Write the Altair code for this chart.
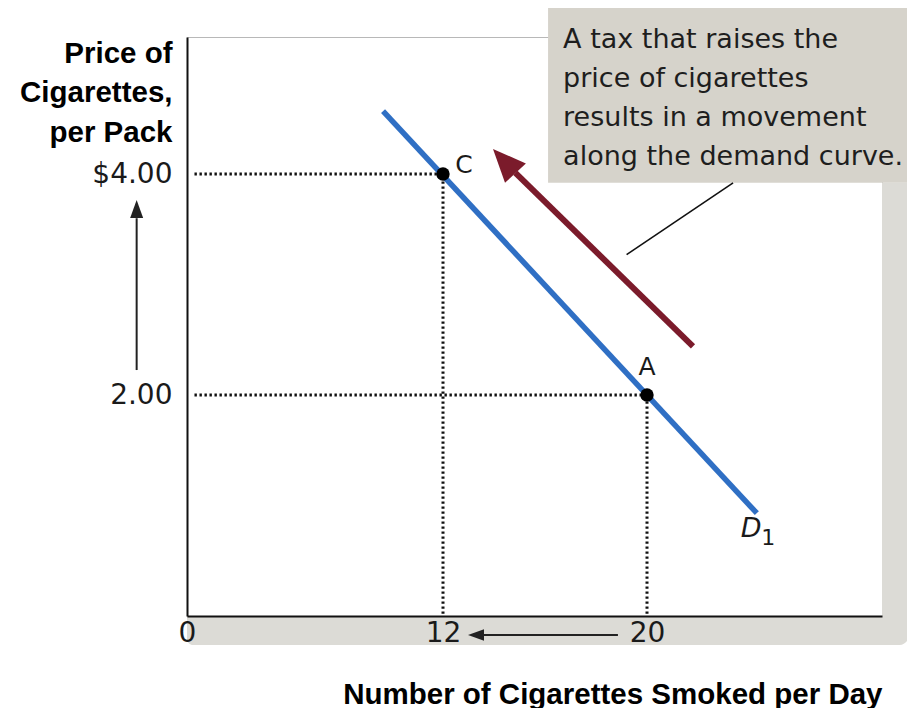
import altair as alt
import pandas as pd

# ---- data ----
x_ticks = [0, 12, 20]
y_ticks = [2, 4]
y_tick_text = {2: "2.00", 4: "$4.00"}

# demand curve D1 (quantity, price)
demand_q = [9.19, 24.3]
demand_p = [4.57, 0.93]

# labelled points
pt_names = ["C", "A"]
pt_q = [12, 20]
pt_p = [4.0, 2.0]
pt_label_q = [12.82, 20.0]
pt_label_p = [4.08, 2.25]

# tax arrow: shaft start/end, head centre
tax_q = [21.8, 14.84]
tax_p = [2.44, 4.01]
tax_head_q = [14.45]
tax_head_p = [4.105]

# price arrow (left of y axis)
up_q = [-2.36, -2.36]
up_p = [2.226, 3.60]
up_head_q = [-2.36]
up_head_p = [3.674]

# quantity arrow (below x axis)
left_q = [18.86, 13.6]
left_p = [-0.172, -0.172]
left_head_q = [13.33]
left_head_p = [-0.172]

# annotation box
box_q = [16.12, 30.36]
box_p = [3.92, 5.55]
box_text = "A tax that raises the\nprice of cigarettes\nresults in a movement\nalong the demand curve."
box_text_q = [16.71]
box_text_p = [5.14]
leader_q = [19.2, 23.37]
leader_p = [3.27, 3.92]

# frame bands
band_bottom_q = [0, 30.24]
band_bottom_p = [-0.262, 0]
band_right_q = [29.2, 30.24]
band_right_p = [0, 3.92]

# D1 label
d_q = [24.08]
d_p = [0.79]
sub_q = [24.75]
sub_p = [0.71]

# ---- scales / axes ----
xs = alt.Scale(domain=[0, 12, 20, 29.2], range=[0, 256, 460, 695], nice=False, zero=False)
ys = alt.Scale(domain=[0, 5.24], nice=False, zero=False)

label_expr = " : ".join(
    [f"datum.value == {k} ? '{v}'" for k, v in y_tick_text.items()]
) + " : ''"

x_axis = alt.Axis(
    values=x_ticks, grid=False, ticks=False, tickSize=0, labelPadding=17,
    labelBaseline="middle", labelFont="DejaVu Sans", labelFontSize=28,
    labelColor="#1a1a1a", domainColor="#111111", domainWidth=2,
    labelFlush=False, labelOverlap=False, zindex=1,
    title="Number of Cigarettes Smoked per Day",
    titleFont="Liberation Sans", titleFontWeight="bold", titleFontSize=29.5,
    titleColor="#000000", titleX=695, titleY=87, titleAlign="right",
    titleBaseline="alphabetic",
)
y_axis = alt.Axis(
    values=y_ticks, labelExpr=label_expr, grid=False, ticks=False, tickSize=0,
    labelPadding=15, labelBaseline="middle", labelFont="DejaVu Sans",
    labelFontSize=28, labelColor="#1a1a1a", domainColor="#111111",
    domainWidth=2, labelFlush=False, labelOverlap=False, zindex=1,
    title=["Price of", "Cigarettes,", "per Pack"], titleAngle=0,
    titleFont="Liberation Sans", titleFontWeight="bold", titleFontSize=29.5,
    titleColor="#000000", titleX=-15, titleY=25, titleAlign="right",
    titleBaseline="alphabetic", titleLineHeight=39.5,
)


def X(f):
    return alt.X(f, type="quantitative", scale=xs, axis=x_axis)


def Y(f):
    return alt.Y(f, type="quantitative", scale=ys, axis=y_axis)


def X2(f):
    return alt.X2(f)


def Y2(f):
    return alt.Y2(f)


# ---- layers ----
bands_bottom = alt.Chart(pd.DataFrame({
    "q1": [band_bottom_q[0]], "q2": [band_bottom_q[1]],
    "p1": [band_bottom_p[0]], "p2": [band_bottom_p[1]],
})).mark_rect(color="#dcdbd6", cornerRadiusBottomLeft=6, cornerRadiusBottomRight=9).encode(
    x=X("q1"), x2=X2("q2"), y=Y("p1"), y2=Y2("p2"))

bands_right = alt.Chart(pd.DataFrame({
    "q1": [band_right_q[0]], "q2": [band_right_q[1]],
    "p1": [band_right_p[0]], "p2": [band_right_p[1]],
})).mark_rect(color="#dcdbd6").encode(
    x=X("q1"), x2=X2("q2"), y=Y("p1"), y2=Y2("p2"))

box = alt.Chart(pd.DataFrame({
    "q1": [box_q[0]], "q2": [box_q[1]], "p1": [box_p[0]], "p2": [box_p[1]],
})).mark_rect(color="#d6d3cb").encode(
    x=X("q1"), x2=X2("q2"), y=Y("p1"), y2=Y2("p2"))

box_label = alt.Chart(pd.DataFrame({
    "q": box_text_q, "p": box_text_p, "t": [box_text],
})).mark_text(
    lineBreak="\n", align="left", baseline="alphabetic", font="DejaVu Sans",
    fontSize=27, lineHeight=39, color="#1e1e1e",
).encode(x=X("q"), y=Y("p"), text="t:N")

leader = alt.Chart(pd.DataFrame({
    "q1": [leader_q[0]], "q2": [leader_q[1]], "p1": [leader_p[0]], "p2": [leader_p[1]],
})).mark_rule(color="#111111", strokeWidth=1.6).encode(
    x=X("q1"), x2=X2("q2"), y=Y("p1"), y2=Y2("p2"))

dot_df = pd.DataFrame({
    "q1": [0.35, 0.35, pt_q[0], pt_q[1]],
    "q2": [pt_q[0], pt_q[1], pt_q[0], pt_q[1]],
    "p1": [pt_p[0], pt_p[1], 0.02, 0.02],
    "p2": [pt_p[0], pt_p[1], pt_p[0], pt_p[1]],
})
dotted = alt.Chart(dot_df).mark_rule(
    color="#111111", strokeWidth=3, strokeDash=[2.4, 2.6], strokeCap="butt",
).encode(x=X("q1"), x2=X2("q2"), y=Y("p1"), y2=Y2("p2"))

demand = alt.Chart(pd.DataFrame({"q": demand_q, "p": demand_p})).mark_line(
    color="#2f6fc4", strokeWidth=5.5, strokeCap="butt",
).encode(x=X("q"), y=Y("p"))

tax_shaft = alt.Chart(pd.DataFrame({
    "q1": [tax_q[0]], "q2": [tax_q[1]], "p1": [tax_p[0]], "p2": [tax_p[1]],
})).mark_rule(color="#7b1b2b", strokeWidth=6).encode(
    x=X("q1"), x2=X2("q2"), y=Y("p1"), y2=Y2("p2"))

tax_head = alt.Chart(pd.DataFrame({"q": tax_head_q, "p": tax_head_p})).mark_point(
    shape="M0,-1L0.78,0.8L-0.78,0.8Z", filled=True, opacity=1, size=1340,
    angle=317, color="#7b1b2b", strokeWidth=0,
).encode(x=X("q"), y=Y("p"))

points = alt.Chart(pd.DataFrame({"q": pt_q, "p": pt_p})).mark_circle(
    color="#000000", size=180, opacity=1,
).encode(x=X("q"), y=Y("p"))

pt_labels = alt.Chart(pd.DataFrame({
    "q": pt_label_q, "p": pt_label_p, "t": pt_names,
})).mark_text(font="DejaVu Sans", fontSize=25, color="#1a1a1a",
              baseline="middle", align="center").encode(
    x=X("q"), y=Y("p"), text="t:N")

d_label = alt.Chart(pd.DataFrame({"q": d_q, "p": d_p, "t": ["D"]})).mark_text(
    font="DejaVu Sans", fontSize=27, fontStyle="italic", color="#1a1a1a",
    baseline="middle", align="center",
).encode(x=X("q"), y=Y("p"), text="t:N")

d_sub = alt.Chart(pd.DataFrame({"q": sub_q, "p": sub_p, "t": ["1"]})).mark_text(
    font="DejaVu Sans", fontSize=22, color="#1a1a1a",
    baseline="middle", align="center",
).encode(x=X("q"), y=Y("p"), text="t:N")

up_shaft = alt.Chart(pd.DataFrame({
    "q1": [up_q[0]], "q2": [up_q[1]], "p1": [up_p[0]], "p2": [up_p[1]],
})).mark_rule(color="#222222", strokeWidth=2).encode(
    x=X("q1"), x2=X2("q2"), y=Y("p1"), y2=Y2("p2"))

up_head = alt.Chart(pd.DataFrame({"q": up_head_q, "p": up_head_p})).mark_point(
    shape="M0,-1L0.65,0.8L-0.65,0.8Z", filled=True, opacity=1, size=400,
    angle=0, color="#222222", strokeWidth=0,
).encode(x=X("q"), y=Y("p"))

left_shaft = alt.Chart(pd.DataFrame({
    "q1": [left_q[0]], "q2": [left_q[1]], "p1": [left_p[0]], "p2": [left_p[1]],
})).mark_rule(color="#222222", strokeWidth=2).encode(
    x=X("q1"), x2=X2("q2"), y=Y("p1"), y2=Y2("p2"))

left_head = alt.Chart(pd.DataFrame({"q": left_head_q, "p": left_head_p})).mark_point(
    shape="M0,-1L0.65,0.8L-0.65,0.8Z", filled=True, opacity=1, size=316,
    angle=270, color="#222222", strokeWidth=0,
).encode(x=X("q"), y=Y("p"))

chart = alt.layer(
    bands_bottom, bands_right, box, box_label, leader, dotted, demand,
    tax_shaft, tax_head, points, pt_labels, d_label, d_sub,
    up_shaft, up_head, left_shaft, left_head,
).properties(
    width=695, height=579,
    autosize=alt.AutoSizeParams(type="none"),
    padding={"left": 179, "top": 29, "right": 25, "bottom": 92},
    background="white",
).configure_view(stroke="#b8b8b8", strokeWidth=1)

chart.save("out.html", embed_options={"renderer": "svg", "actions": False})
